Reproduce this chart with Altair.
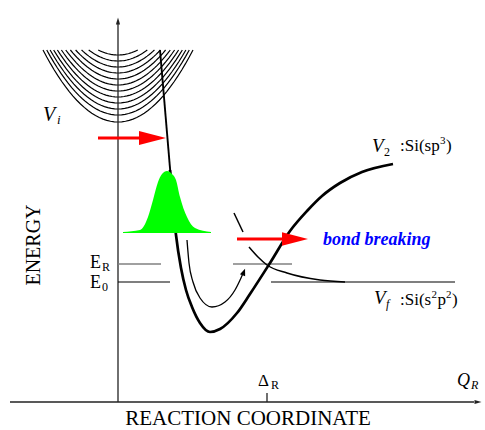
import altair as alt
import pandas as pd

W, H = 485, 430
SERIF = "Liberation Serif"

# ---- diagram data (drawing units: x to the right, y downwards) ----
# vibrational levels of the initial-state well V_i (vertex heights)
level_vertex = [55, 61, 67, 73, 79, 85, 91, 97, 103, 109, 115, 122]
well_center_x = 118
level_top = 50
level_curv = 0.0128

# V_2 potential: steep wall, minimum, rise towards Si(sp3)
v2_wall_x = [160, 171]
v2_wall_y = [50, 180]
v2_x = [170, 176, 181, 186, 192, 200, 210, 220, 237, 250, 270, 290, 307, 322, 340, 362, 393]
v2_y = [170, 235, 268, 290, 307, 323, 332, 329, 313, 294, 263, 231, 211, 196, 183, 172, 164]

# V_f potential, decaying to the Si(s2p2) level (broken where the arrow crosses)
vf1_x = [234, 243]
vf1_y = [213, 232]
vf2_x = [249, 258, 267, 287, 320, 345]
vf2_y = [247, 257, 265, 273, 280, 282]

# motion of the wave packet inside the well
path_x = [187, 189, 193, 200, 212, 225, 235, 241, 244]
path_y = [240, 263, 282, 298, 307, 302, 290, 278, 271]

# wave packet profile
packet_x = [123, 140, 148, 153, 158, 162, 167, 172, 176, 180, 187, 195, 211]
packet_y = [232, 230, 217, 200, 182, 174, 171, 174, 180, 197, 217, 228, 232]
packet_base = 233

# horizontal level segments: x1, x2, y
seg_x1 = [118, 233, 118, 271]
seg_x2 = [161, 292, 170, 455]
seg_y = [264, 264, 282, 282]
seg_col = ["#808080", "#808080", "#000000", "#000000"]
seg_w = [1.6, 1.6, 1.2, 1.2]

# axes and tick
ax_x1 = [118, 10, 267]
ax_x2 = [118, 474, 267]
ax_y1 = [24, 402, 393]
ax_y2 = [402, 402, 402]

# red arrows (shafts)
arr_x1 = [98, 237]
arr_x2 = [141, 284]
arr_y = [138, 239]

# arrow heads: centre, rotation, size, shape, colour
HEAD_RED = "M 1 0 L -1 -0.52 L -1 0.52 Z"
HEAD_AX = "M 1 0 L -1 -0.6 L -1 0.6 Z"
HEAD_SMALL = "M 1 0 L -1 -0.8 L -1 0.8 Z"
head_x = [152.5, 295, 118, 478, 243.8]
head_y = [138, 239, 21, 402, 272]
head_angle = [0, 0, 270, 0, 291]
head_size = [729, 676, 49, 49, 49]
head_shape = [HEAD_RED, HEAD_RED, HEAD_AX, HEAD_AX, HEAD_SMALL]
head_color = ["#ff0000", "#ff0000", "#222222", "#222222", "#000000"]

# labels (roman)
reg_text = ["E", "R", "E", "0", "\u0394", "R", "2",
            ":Si(sp", "3", ")",
            ":Si(s", "2", "p", "2", ")",
            "REACTION COORDINATE"]
reg_x = [90, 102, 90, 102, 258, 271, 384,
         400, 440, 446,
         400, 431.5, 437.5, 446, 452,
         248]
reg_y = [268, 271, 288, 291, 386, 389, 156,
         151, 144, 151,
         305, 298, 305, 298, 305,
         425]
reg_size = [18, 12, 18, 12, 17, 12, 12,
            17, 11, 17,
            17, 11, 17, 11, 17,
            21]
reg_align = ["left"] * 15 + ["center"]

# labels (italic)
ital_text = ["V", "i", "V", "V", "f", "Q", "R"]
ital_x = [43, 57, 372, 374, 386, 457, 471]
ital_y = [121, 124, 152, 304, 308, 386, 389]
ital_size = [20, 13, 19, 19, 12, 18, 12]

# ---- scales ----
X = lambda f="x": alt.X(f"{f}:Q", scale=alt.Scale(domain=[0, W], nice=False, zero=False), axis=None)
Y = lambda f="y": alt.Y(f"{f}:Q", scale=alt.Scale(domain=[0, H], reverse=True, nice=False, zero=False), axis=None)

layers = []

# vibrational levels
rows = []
for i, v in enumerate(level_vertex):
    hw = ((v - level_top) / level_curv) ** 0.5
    n = 40
    for j in range(n + 1):
        dx = -hw + 2 * hw * j / n
        rows.append({"lv": i, "x": well_center_x + dx, "y": v - level_curv * dx * dx, "o": j})
levels = pd.DataFrame(rows)
layers.append(alt.Chart(levels).mark_line(color="black", strokeWidth=1.2).encode(
    x=X(), y=Y(), detail="lv:N", order="o:Q"))

# axes
axes = pd.DataFrame({"x": ax_x1, "x2": ax_x2, "y": ax_y1, "y2": ax_y2})
layers.append(alt.Chart(axes).mark_rule(color="#222222", strokeWidth=1.3).encode(
    x=X(), x2="x2:Q", y=Y(), y2="y2:Q"))

# level segments
segs = pd.DataFrame({"x": seg_x1, "x2": seg_x2, "y": seg_y, "c": seg_col, "w": seg_w})
layers.append(alt.Chart(segs).mark_rule().encode(
    x=X(), x2="x2:Q", y=Y(),
    color=alt.Color("c:N", scale=None), strokeWidth=alt.StrokeWidth("w:Q", scale=None)))

# V_2 potential
wall = pd.DataFrame({"x": v2_wall_x, "y": v2_wall_y})
layers.append(alt.Chart(wall).mark_line(color="black", strokeWidth=1.9).encode(x=X(), y=Y()))
v2 = pd.DataFrame({"x": v2_x, "y": v2_y})
layers.append(alt.Chart(v2).mark_line(color="black", strokeWidth=2.7, interpolate="monotone").encode(
    x=X(), y=Y()))

# V_f potential
vf = pd.concat([pd.DataFrame({"x": vf1_x, "y": vf1_y, "s": 0}),
                pd.DataFrame({"x": vf2_x, "y": vf2_y, "s": 1})])
layers.append(alt.Chart(vf).mark_line(color="black", strokeWidth=1.5, interpolate="monotone").encode(
    x=X(), y=Y(), detail="s:N"))

# wave packet path
path = pd.DataFrame({"x": path_x, "y": path_y})
layers.append(alt.Chart(path).mark_line(color="black", strokeWidth=1.3, interpolate="monotone").encode(
    x=X(), y=Y()))

# wave packet
packet = pd.DataFrame({"x": packet_x, "y": packet_y, "b": packet_base})
layers.append(alt.Chart(packet).mark_area(color="#00ff00", opacity=1, interpolate="monotone").encode(
    x=X(), y=Y(), y2="b:Q"))

# red arrow shafts
arr = pd.DataFrame({"x": arr_x1, "x2": arr_x2, "y": arr_y})
layers.append(alt.Chart(arr).mark_rule(color="#ff0000", strokeWidth=3).encode(
    x=X(), x2="x2:Q", y=Y()))

# arrow heads
heads = pd.DataFrame({"x": head_x, "y": head_y, "a": head_angle, "s": head_size,
                      "sh": head_shape, "c": head_color})
layers.append(alt.Chart(heads).mark_point(filled=True, opacity=1, strokeWidth=0).encode(
    x=X(), y=Y(),
    angle=alt.Angle("a:Q", scale=None),
    size=alt.Size("s:Q", scale=None),
    shape=alt.Shape("sh:N", scale=None),
    color=alt.Color("c:N", scale=None)))

# labels
reg = pd.DataFrame({"t": reg_text, "x": reg_x, "y": reg_y, "s": reg_size, "al": reg_align})
for al in ["left", "center"]:
    layers.append(alt.Chart(reg[reg.al == al]).mark_text(
        font=SERIF, align=al, baseline="alphabetic", color="black").encode(
        x=X(), y=Y(), text="t:N", size=alt.Size("s:Q", scale=None)))

ital = pd.DataFrame({"t": ital_text, "x": ital_x, "y": ital_y, "s": ital_size})
layers.append(alt.Chart(ital).mark_text(
    font=SERIF, fontStyle="italic", align="left", baseline="alphabetic", color="black").encode(
    x=X(), y=Y(), text="t:N", size=alt.Size("s:Q", scale=None)))

bond = pd.DataFrame({"t": ["bond breaking"], "x": [323], "y": [245]})
layers.append(alt.Chart(bond).mark_text(
    font=SERIF, fontStyle="italic", fontWeight="bold", fontSize=18, align="left",
    baseline="alphabetic", color="#0000ff").encode(x=X(), y=Y(), text="t:N"))

energy = pd.DataFrame({"t": ["ENERGY"], "x": [40], "y": [245]})
layers.append(alt.Chart(energy).mark_text(
    font=SERIF, fontSize=20, angle=270, align="center", baseline="alphabetic",
    color="black").encode(x=X(), y=Y(), text="t:N"))

chart = alt.layer(*layers).properties(
    width=W, height=H, padding=0, autosize="none", background="white"
).configure_view(stroke=None)

chart.save("out.html", embed_options={"renderer": "svg", "actions": False})
